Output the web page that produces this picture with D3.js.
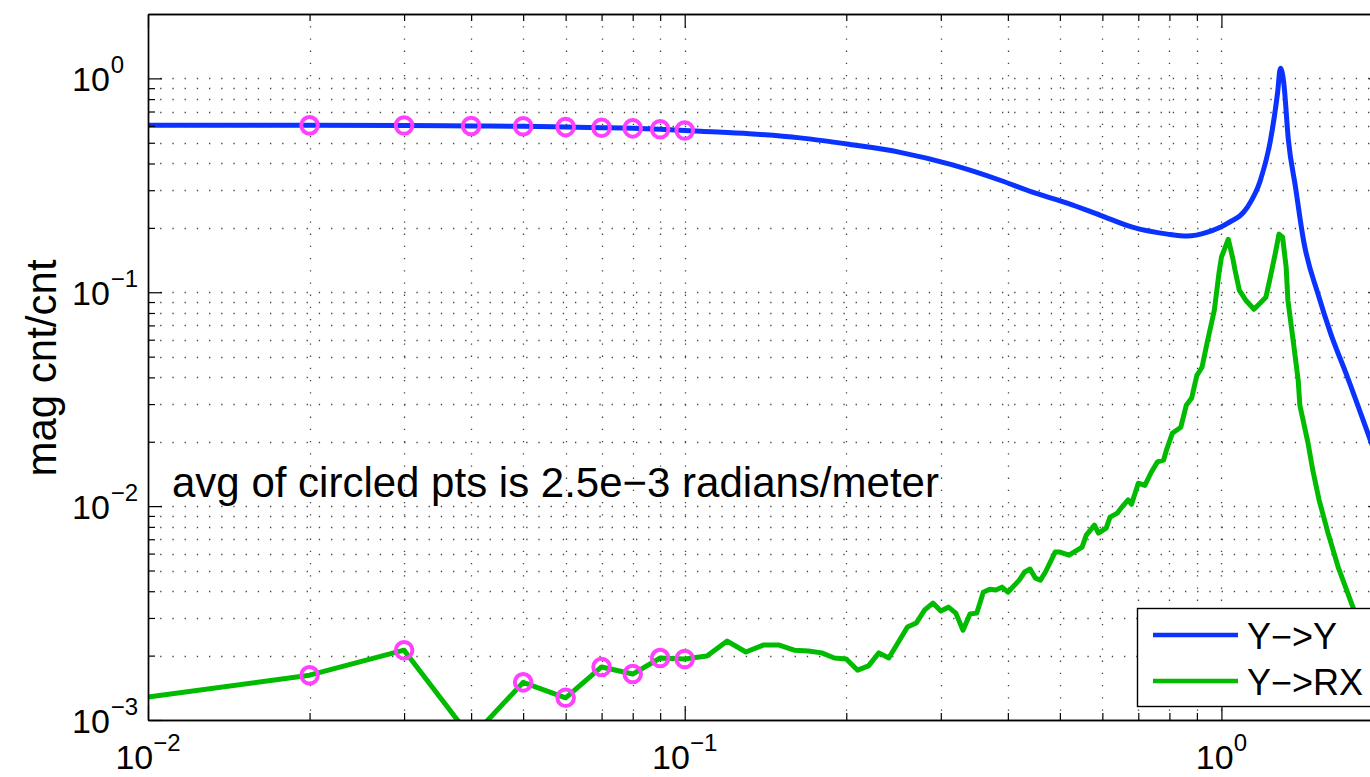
<!DOCTYPE html>
<html>
<head>
<meta charset="utf-8">
<script src="https://cdn.jsdelivr.net/npm/d3@7"></script>
<style>
  html, body { margin: 0; padding: 0; background: #fff; }
  svg { display: block; font-family: "Liberation Sans", Arial, Helvetica, sans-serif; }
</style>
</head>
<body>
<svg id="chart" width="1370" height="777"></svg>
<script>
// Y->Y transfer function magnitude (frequency in Hz, magnitude in cnt/cnt)
const freqYY = [0.01, 0.02, 0.03, 0.04, 0.05, 0.06, 0.07, 0.08, 0.09, 0.10,
  0.107, 0.132, 0.164, 0.203, 0.252, 0.313, 0.387, 0.446, 0.516, 0.595,
  0.685, 0.793, 0.864, 0.942, 1.026, 1.118, 1.182, 1.234, 1.272, 1.288,
  1.305, 1.333, 1.374, 1.422, 1.516, 1.597, 1.717, 1.895, 2.0];
const magYY = [0.603, 0.603, 0.602, 0.599, 0.597, 0.592, 0.588, 0.584, 0.578, 0.571,
  0.566, 0.551, 0.527, 0.491, 0.451, 0.396, 0.334, 0.293, 0.261, 0.229,
  0.201, 0.187, 0.183, 0.191, 0.210, 0.250, 0.334, 0.513, 0.851, 1.114,
  0.979, 0.513, 0.310, 0.175, 0.0968, 0.0644, 0.0401, 0.0203, 0.0140];

// Y->RX transfer function magnitude
const freqYRX = [0.01, 0.02, 0.03, 0.04, 0.05, 0.06, 0.07, 0.08, 0.09, 0.10,
  0.11, 0.12, 0.13, 0.14, 0.15, 0.16, 0.17, 0.18, 0.19, 0.20,
  0.21, 0.22, 0.23, 0.24, 0.25, 0.26, 0.27, 0.28, 0.29, 0.30,
  0.31, 0.32, 0.33, 0.34, 0.35, 0.36, 0.37, 0.38, 0.39, 0.40,
  0.42, 0.43, 0.44, 0.45, 0.46, 0.47, 0.49, 0.50, 0.52, 0.55,
  0.56, 0.58, 0.59, 0.61, 0.62, 0.64, 0.65, 0.67, 0.68, 0.70,
  0.72, 0.74, 0.76, 0.78, 0.79, 0.81, 0.84, 0.86, 0.88, 0.90,
  0.92, 0.94, 0.97, 0.99, 1.00, 1.03, 1.05, 1.06, 1.08, 1.11,
  1.15, 1.18, 1.21, 1.23, 1.26, 1.28, 1.30, 1.32, 1.33, 1.36,
  1.39, 1.40, 1.45, 1.48, 1.52, 1.58, 1.65, 1.76, 2.00];
const magYRX = [1.28e-3, 1.62e-3, 2.12e-3, 8.24e-4, 1.50e-3, 1.27e-3, 1.77e-3, 1.64e-3, 1.95e-3, 1.93e-3,
  1.99e-3, 2.34e-3, 2.08e-3, 2.24e-3, 2.24e-3, 2.12e-3, 2.10e-3, 2.06e-3, 1.95e-3, 1.93e-3,
  1.71e-3, 1.79e-3, 2.06e-3, 1.95e-3, 2.31e-3, 2.72e-3, 2.84e-3, 3.27e-3, 3.52e-3, 3.23e-3,
  3.37e-3, 3.16e-3, 2.63e-3, 3.13e-3, 3.16e-3, 3.96e-3, 4.09e-3, 4.05e-3, 4.18e-3, 3.96e-3,
  4.51e-3, 4.92e-3, 5.08e-3, 4.61e-3, 4.51e-3, 4.92e-3, 6.10e-3, 6.10e-3, 5.90e-3, 6.43e-3,
  7.32e-3, 8.15e-3, 7.48e-3, 7.89e-3, 8.88e-3, 9.28e-3, 9.79e-3, 1.07e-2, 1.02e-2, 1.28e-2,
  1.25e-2, 1.44e-2, 1.61e-2, 1.64e-2, 1.83e-2, 2.19e-2, 2.34e-2, 2.96e-2, 3.20e-2, 4.09e-2,
  4.46e-2, 5.78e-2, 8.24e-2, 0.124, 0.146, 0.177, 0.144, 0.127, 0.102, 0.0918,
  0.0833, 0.0888, 0.0948, 0.114, 0.152, 0.187, 0.181, 0.131, 0.0918, 0.0597,
  0.0388, 0.0296, 0.0197, 0.0147, 0.0107, 7.48e-3, 5.19e-3, 3.34e-3, 1.46e-3];

// Points used for the averaged coupling estimate
const circledFreqs = [0.02, 0.03, 0.04, 0.05, 0.06, 0.07, 0.08, 0.09, 0.10];

// Axis ticks (decades) and their exponent labels
const xTickValues = [0.01, 0.1, 1];
const xTickExponents = ["\u22122", "\u22121", "0"];
const yTickValues = [1e-3, 1e-2, 1e-1, 1];
const yTickExponents = ["\u22123", "\u22122", "\u22121", "0"];

const seriesNames = ["Y\u2212>Y", "Y\u2212>RX"];
const seriesColors = ["#0a33ff", "#00bb00"];
const circleColor = "#ff40ff";
const yLabelText = "mag cnt/cnt";
const noteText = "avg of circled pts is 2.5e\u22123 radians/meter";

// ---- layout ----
const box = { left: 148, top: 14, right: 1383, bottom: 720 };
const x = d3.scaleLog().domain([0.01, 2]).range([box.left, box.right]);
const y = d3.scaleLog().domain([1e-3, 2]).range([box.bottom, box.top]);

const svg = d3.select("#chart");
svg.append("rect").attr("width", 1370).attr("height", 777).attr("fill", "#fff");

svg.append("defs").append("clipPath").attr("id", "plotClip")
  .append("rect")
  .attr("x", box.left).attr("y", box.top)
  .attr("width", box.right - box.left).attr("height", box.bottom - box.top);

// minor ticks: 2..9 times each decade inside the domain
function minorTicks(scale) {
  const [a, b] = scale.domain();
  const out = [];
  for (let e = Math.floor(Math.log10(a)); e <= Math.ceil(Math.log10(b)); e++) {
    for (let k = 2; k <= 9; k++) {
      const v = k * Math.pow(10, e);
      if (v > a * 1.0001 && v < b * 0.9999) out.push(v);
    }
  }
  return out;
}
const xMinor = minorTicks(x);
const yMinor = minorTicks(y);

// ---- dotted grid ----
const grid = svg.append("g")
  .attr("stroke", "#444").attr("stroke-width", 1.3)
  .attr("stroke-dasharray", "1.3 10.9").attr("fill", "none");
grid.selectAll("line.gx")
  .data(xTickValues.concat(xMinor).filter(v => v > 0.01))
  .join("line").attr("class", "gx")
  .attr("x1", d => Math.round(x(d)) + 0.5).attr("x2", d => Math.round(x(d)) + 0.5)
  .attr("y1", box.top).attr("y2", box.bottom);
grid.selectAll("line.gy")
  .data(yTickValues.concat(yMinor).filter(v => v > 1e-3))
  .join("line").attr("class", "gy")
  .attr("y1", d => Math.round(y(d)) + 0.5).attr("y2", d => Math.round(y(d)) + 0.5)
  .attr("x1", box.left).attr("x2", box.right);

// ---- series ----
const yyData = freqYY.map((f, i) => ({ f, v: magYY[i] }));
const yrxData = freqYRX.map((f, i) => ({ f, v: magYRX[i] }));

const plot = svg.append("g").attr("clip-path", "url(#plotClip)");

plot.append("path")
  .datum(yrxData)
  .attr("fill", "none").attr("stroke", seriesColors[1])
  .attr("stroke-width", 5).attr("stroke-linejoin", "round").attr("stroke-linecap", "round")
  .attr("d", d3.line().x(d => x(d.f)).y(d => y(d.v)));

plot.append("path")
  .datum(yyData)
  .attr("fill", "none").attr("stroke", seriesColors[0])
  .attr("stroke-width", 5).attr("stroke-linejoin", "round").attr("stroke-linecap", "round")
  .attr("d", d3.line().curve(d3.curveMonotoneX).x(d => x(d.f)).y(d => y(d.v)));

// circled points on both traces
const pick = (data, f) => data.find(d => Math.abs(d.f - f) < 1e-9);
const circled = circledFreqs.map(f => pick(yyData, f))
  .concat(circledFreqs.map(f => pick(yrxData, f)));
plot.selectAll("circle.pt")
  .data(circled)
  .join("circle").attr("class", "pt")
  .attr("cx", d => x(d.f)).attr("cy", d => y(d.v)).attr("r", 8.3)
  .attr("fill", "none").attr("stroke", circleColor).attr("stroke-width", 4);

// ---- annotation ----
svg.append("text")
  .attr("x", 172).attr("y", 497)
  .attr("font-size", 42).attr("fill", "#000")
  .text(noteText);

// ---- axes (ticks point inward) ----
const axisStyle = g => {
  g.select(".domain").attr("stroke", "#000").attr("stroke-width", 1.4);
  g.selectAll(".tick line").attr("stroke", "#000").attr("stroke-width", 1.2);
  g.selectAll(".tick text").remove();
};
function drawAxis(axisFn, scale, values, len, transform) {
  svg.append("g").attr("transform", transform)
    .call(axisFn(scale).tickValues(values).tickSizeInner(-len).tickSizeOuter(0).tickFormat(() => ""))
    .call(axisStyle);
}
drawAxis(d3.axisBottom, x, xTickValues, 14, `translate(0,${box.bottom})`);
drawAxis(d3.axisBottom, x, xMinor, 7, `translate(0,${box.bottom})`);
drawAxis(d3.axisTop, x, xTickValues, 14, `translate(0,${box.top})`);
drawAxis(d3.axisTop, x, xMinor, 7, `translate(0,${box.top})`);
drawAxis(d3.axisLeft, y, yTickValues, 14, `translate(${box.left},0)`);
drawAxis(d3.axisLeft, y, yMinor, 7, `translate(${box.left},0)`);
drawAxis(d3.axisRight, y, yTickValues, 14, `translate(${box.right},0)`);
drawAxis(d3.axisRight, y, yMinor, 7, `translate(${box.right},0)`);

// x tick labels: 10 with superscript exponent, centred under the tick
const xl = svg.append("g").attr("fill", "#000");
xTickValues.forEach((v, i) => {
  const t = xl.append("text")
    .attr("x", x(v)).attr("y", 769)
    .attr("text-anchor", "middle").attr("font-size", 34);
  t.append("tspan").text("10");
  t.append("tspan").attr("dy", -18).attr("font-size", 24).text(xTickExponents[i]);
});

// y tick labels
const yl = svg.append("g").attr("fill", "#000");
yTickValues.forEach((v, i) => {
  const t = yl.append("text")
    .attr("x", 72).attr("y", y(v) + 13)
    .attr("font-size", 34);
  t.append("tspan").text("10");
  t.append("tspan").attr("dy", -18).attr("dx", 1).attr("font-size", 24).text(yTickExponents[i]);
});

// y axis title
svg.append("text")
  .attr("transform", "translate(56,368) rotate(-90)")
  .attr("text-anchor", "middle").attr("font-size", 42).attr("fill", "#000")
  .text(yLabelText);

// ---- legend ----
const lg = svg.append("g");
lg.append("rect")
  .attr("x", 1137.5).attr("y", 608.5).attr("width", 240).attr("height", 98)
  .attr("fill", "#fff").attr("stroke", "#000").attr("stroke-width", 1.4);
seriesNames.forEach((name, i) => {
  const cy = 635 + i * 46;
  lg.append("line")
    .attr("x1", 1153).attr("x2", 1238).attr("y1", cy).attr("y2", cy)
    .attr("stroke", seriesColors[i]).attr("stroke-width", 4.5);
  lg.append("text")
    .attr("x", 1247).attr("y", cy + 14)
    .attr("font-size", 36).attr("fill", "#000")
    .text(name);
});
</script>
</body>
</html>
